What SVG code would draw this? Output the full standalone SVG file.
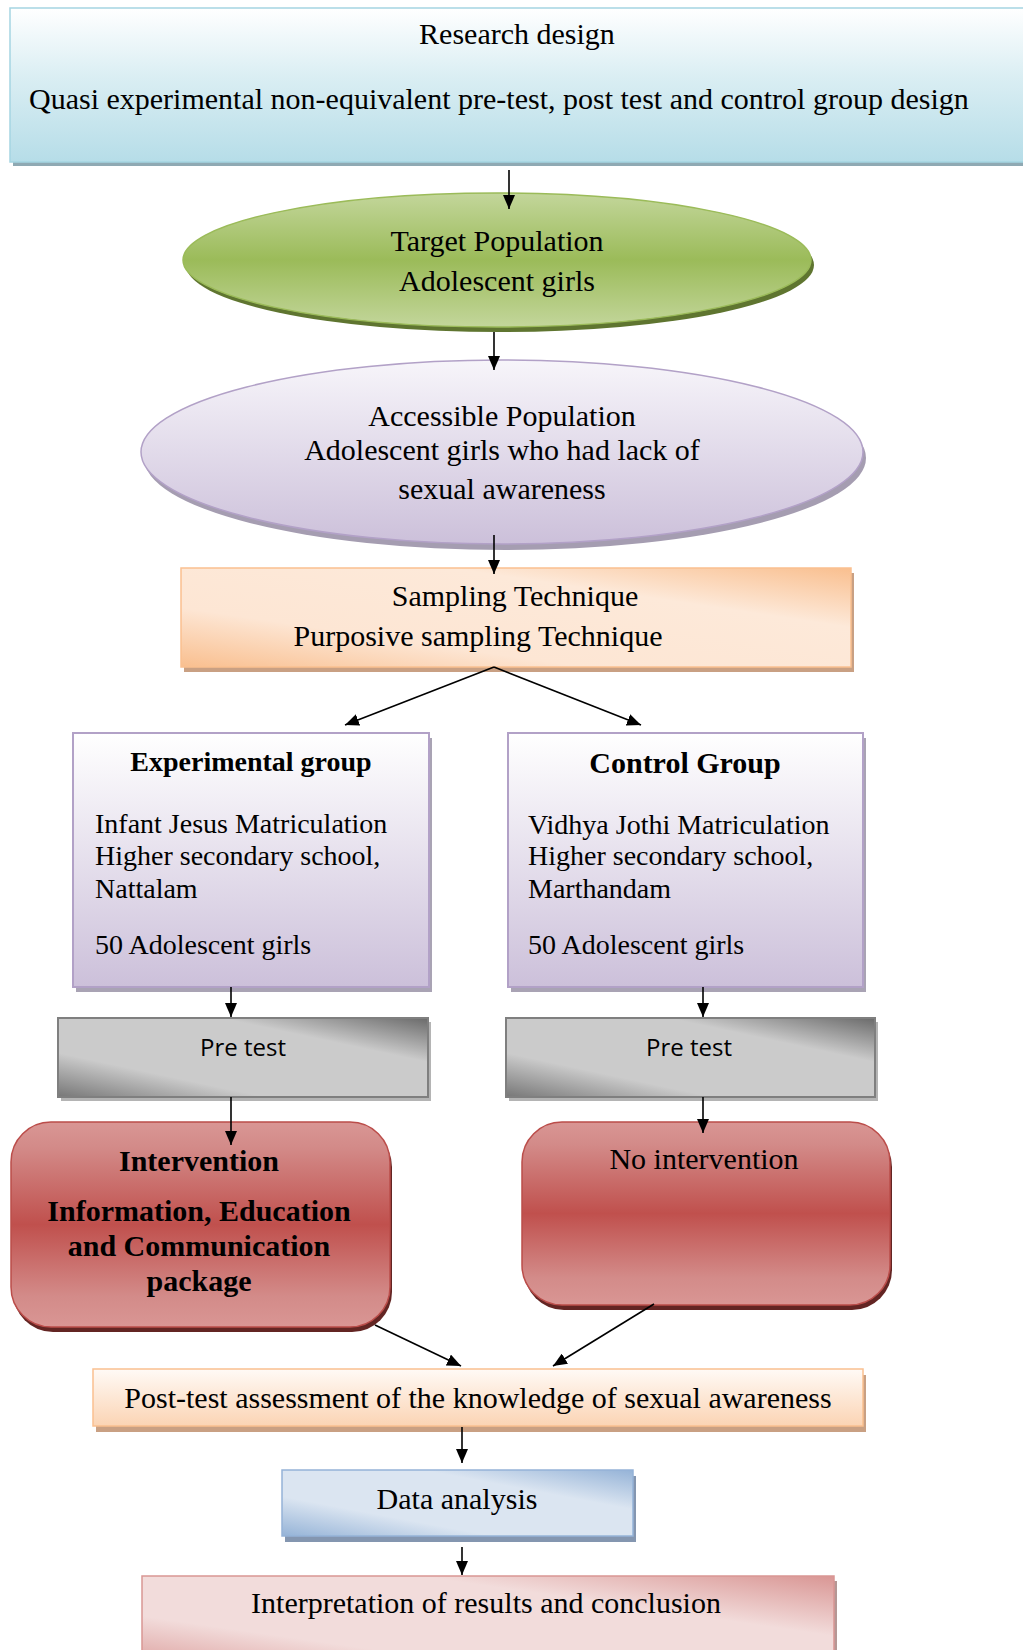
<svg xmlns="http://www.w3.org/2000/svg" width="1023" height="1650" viewBox="0 0 1023 1650">
<defs>
<style>
.t{font-family:"Liberation Serif","Times New Roman",serif;font-size:30px;fill:#000}
.c{text-anchor:middle}
.b{font-weight:bold}
.g{font-size:28px}
.s{font-family:"Open Sans","Liberation Sans",sans-serif;font-size:24px;fill:#000;text-anchor:middle}
.ln{stroke:#000;stroke-width:1.6;fill:none;marker-end:url(#ah)}
</style>
<marker id="ah" viewBox="0 0 14 12" refX="14" refY="6" markerWidth="14" markerHeight="12" markerUnits="userSpaceOnUse" orient="auto">
<path d="M0,0 L14,6 L0,12 z" fill="#000"/>
</marker>
<linearGradient id="gTop" x1="0" y1="0" x2="0" y2="1">
<stop offset="0" stop-color="#ffffff"/><stop offset="0.45" stop-color="#daeef3"/><stop offset="1" stop-color="#b6dde8"/>
</linearGradient>
<linearGradient id="gGreen" x1="0" y1="0" x2="0" y2="1">
<stop offset="0" stop-color="#c3d69b"/><stop offset="0.5" stop-color="#9bbb59"/><stop offset="1" stop-color="#c3d69b"/>
</linearGradient>
<linearGradient id="gPurple" x1="0" y1="0" x2="0" y2="1">
<stop offset="0" stop-color="#f7f5fa"/><stop offset="1" stop-color="#ccc0da"/>
</linearGradient>
<linearGradient id="gOrange" x1="0" y1="1" x2="1" y2="0">
<stop offset="0" stop-color="#f9bf8f"/><stop offset="0.3" stop-color="#fde6d4"/><stop offset="0.7" stop-color="#fde9d9"/><stop offset="1" stop-color="#f9bf8f"/>
</linearGradient>
<linearGradient id="gGroup" x1="0" y1="0" x2="0" y2="1">
<stop offset="0" stop-color="#ffffff"/><stop offset="1" stop-color="#ccc0da"/>
</linearGradient>
<linearGradient id="gGray" x1="0" y1="1" x2="1" y2="0">
<stop offset="0" stop-color="#777777"/><stop offset="0.28" stop-color="#cbcbcb"/><stop offset="0.72" stop-color="#cbcbcb"/><stop offset="1" stop-color="#6a6a6a"/>
</linearGradient>
<linearGradient id="gRed" x1="0" y1="0" x2="0" y2="1">
<stop offset="0" stop-color="#d99694"/><stop offset="0.12" stop-color="#d38b89"/><stop offset="0.5" stop-color="#c0504d"/><stop offset="0.85" stop-color="#d38b89"/><stop offset="1" stop-color="#d99694"/>
</linearGradient>
<linearGradient id="gPost" x1="0" y1="0" x2="0" y2="1">
<stop offset="0" stop-color="#fffaf6"/><stop offset="1" stop-color="#fbd4b4"/>
</linearGradient>
<linearGradient id="gBlue" x1="0" y1="1" x2="1" y2="0">
<stop offset="0" stop-color="#95b3d7"/><stop offset="0.3" stop-color="#dbe5f1"/><stop offset="0.7" stop-color="#dbe5f1"/><stop offset="1" stop-color="#95b3d7"/>
</linearGradient>
<linearGradient id="gPink" x1="0" y1="1" x2="1" y2="0">
<stop offset="0" stop-color="#d99694"/><stop offset="0.3" stop-color="#f2dcdb"/><stop offset="0.7" stop-color="#f2dcdb"/><stop offset="1" stop-color="#d99694"/>
</linearGradient>
</defs>
<rect width="1023" height="1650" fill="#ffffff"/>

<g id="research-design">
<rect x="13" y="12" width="1020" height="154" fill="#8fa9b3"/>
<rect x="10" y="8" width="1020" height="154" fill="url(#gTop)" stroke="#a5d5e2" stroke-width="1.5"/>
<text class="t c" x="517" y="44">Research design</text>
<text class="t" x="29" y="109">Quasi experimental non-equivalent pre-test, post test and control group design</text>
</g>

<g id="target-population">
<ellipse cx="500" cy="265" rx="314" ry="67" fill="#5f7530"/>
<ellipse cx="497" cy="260" rx="314" ry="67" fill="url(#gGreen)" stroke="#9bbb59" stroke-width="1.5"/>
<text class="t c" x="497" y="251">Target Population</text>
<text class="t c" x="497" y="291">Adolescent girls</text>
</g>

<g id="accessible-population">
<ellipse cx="505" cy="458" rx="361" ry="92" fill="#a59db1"/>
<ellipse cx="502" cy="452" rx="361" ry="92" fill="url(#gPurple)" stroke="#b2a1c7" stroke-width="1.5"/>
<text class="t c" x="502" y="426">Accessible Population</text>
<text class="t c" x="502" y="460">Adolescent girls who had lack of</text>
<text class="t c" x="502" y="499">sexual awareness</text>
</g>

<g id="sampling">
<rect x="184" y="573" width="670" height="99" fill="#c9a083"/>
<rect x="181" y="568" width="670" height="99" fill="url(#gOrange)" stroke="#fac090" stroke-width="1.5"/>
<text class="t c" x="515" y="606">Sampling Technique</text>
<text class="t c" x="478" y="646">Purposive sampling Technique</text>
</g>

<g id="experimental-group">
<rect x="76" y="738" width="356" height="254" fill="#a9a3b4"/>
<rect x="73" y="733" width="356" height="254" fill="url(#gGroup)" stroke="#b2a1c7" stroke-width="2"/>
<text class="t c b g" x="251" y="771">Experimental group</text>
<text class="t g" x="95" y="833">Infant Jesus Matriculation</text>
<text class="t g" x="95" y="865">Higher secondary school,</text>
<text class="t g" x="95" y="898">Nattalam</text>
<text class="t g" x="95" y="954">50 Adolescent girls</text>
</g>

<g id="control-group">
<rect x="511" y="738" width="355" height="254" fill="#a9a3b4"/>
<rect x="508" y="733" width="355" height="254" fill="url(#gGroup)" stroke="#b2a1c7" stroke-width="2"/>
<text class="t c b" x="685" y="773">Control Group</text>
<text class="t g" x="528" y="834">Vidhya Jothi Matriculation</text>
<text class="t g" x="528" y="865">Higher secondary school,</text>
<text class="t g" x="528" y="898">Marthandam</text>
<text class="t g" x="528" y="954">50 Adolescent girls</text>
</g>

<g id="pretest-exp">
<rect x="61" y="1022" width="370" height="79" fill="#b4b4b4"/>
<rect x="58" y="1018" width="370" height="79" fill="url(#gGray)" stroke="#7f7f7f" stroke-width="2"/>
<text class="s" x="243" y="1056">Pre test</text>
</g>

<g id="pretest-ctrl">
<rect x="509" y="1022" width="369" height="79" fill="#b4b4b4"/>
<rect x="506" y="1018" width="369" height="79" fill="url(#gGray)" stroke="#7f7f7f" stroke-width="2"/>
<text class="s" x="689" y="1056">Pre test</text>
</g>

<g id="intervention">
<rect x="13" y="1127" width="379" height="205" rx="40" fill="#632523"/>
<rect x="11" y="1122" width="379" height="205" rx="40" fill="url(#gRed)" stroke="#bb4d4a" stroke-width="1.5"/>
<text class="t c b" x="199" y="1171">Intervention</text>
<text class="t c b" x="199" y="1221">Information, Education</text>
<text class="t c b" x="199" y="1256">and Communication</text>
<text class="t c b" x="199" y="1291">package</text>
</g>

<g id="no-intervention">
<rect x="524" y="1127" width="368" height="183" rx="40" fill="#632523"/>
<rect x="522" y="1122" width="368" height="183" rx="40" fill="url(#gRed)" stroke="#bb4d4a" stroke-width="1.5"/>
<text class="t c" x="704" y="1169">No intervention</text>
</g>

<g id="post-test">
<rect x="96" y="1375" width="770" height="57" fill="#c9a083"/>
<rect x="93" y="1369" width="770" height="57" fill="url(#gPost)" stroke="#fac090" stroke-width="1.5"/>
<text class="t c" x="478" y="1408">Post-test assessment of the knowledge of sexual awareness</text>
</g>

<g id="data-analysis">
<rect x="285" y="1476" width="351" height="66" fill="#8496b0"/>
<rect x="282" y="1470" width="351" height="66" fill="url(#gBlue)" stroke="#95b3d7" stroke-width="1.5"/>
<text class="t c" x="457" y="1509">Data analysis</text>
</g>

<g id="interpretation">
<rect x="145" y="1581" width="692" height="100" fill="#b59795"/>
<rect x="142" y="1576" width="692" height="100" fill="url(#gPink)" stroke="#d99694" stroke-width="1.5"/>
<text class="t c" x="486" y="1613">Interpretation of results and conclusion</text>
</g>

<g id="connectors">
<line class="ln" x1="509" y1="170" x2="509" y2="209"/>
<line class="ln" x1="494" y1="332" x2="494" y2="370"/>
<line class="ln" x1="494" y1="535" x2="494" y2="574"/>
<line class="ln" x1="494" y1="667" x2="345" y2="725"/>
<line class="ln" x1="494" y1="667" x2="641" y2="725"/>
<line class="ln" x1="231" y1="987" x2="231" y2="1017"/>
<line class="ln" x1="703" y1="987" x2="703" y2="1017"/>
<line class="ln" x1="231" y1="1097" x2="231" y2="1145"/>
<line class="ln" x1="703" y1="1097" x2="703" y2="1133"/>
<line class="ln" x1="375" y1="1325" x2="461" y2="1366"/>
<line class="ln" x1="654" y1="1304" x2="553" y2="1366"/>
<line class="ln" x1="462" y1="1427" x2="462" y2="1463"/>
<line class="ln" x1="462" y1="1547" x2="462" y2="1575"/>
</g>
</svg>
